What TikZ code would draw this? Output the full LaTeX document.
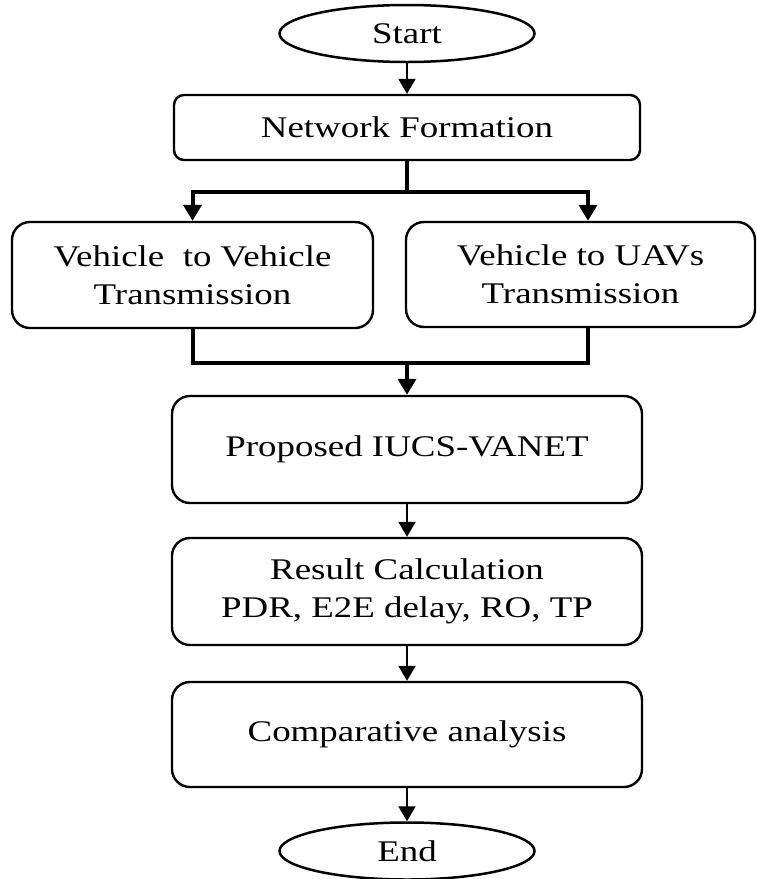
\documentclass[tikz,border=0pt]{standalone}
\usepackage{fontspec}
\setmainfont{Liberation Serif}[FakeStretch=1.23]
\usetikzlibrary{arrows.meta,shapes.geometric,calc}

\tikzset{
  boxtext/.style={font=\fontsize{30}{38}\selectfont, align=center, inner sep=0pt},
  terminal/.style={boxtext, draw, line width=2.5pt, ellipse,
    minimum width=255pt, minimum height=57pt},
  stepbox/.style={boxtext, draw, line width=2.4pt, rounded corners=18pt},
  flowarrow/.style={line width=2pt, -{Triangle[width=17pt,length=15pt]}},
  busline/.style={line width=4pt},
  busarrow/.style={line width=4pt, -{Triangle[width=18pt,length=16pt]}}
}

\begin{document}
\begin{tikzpicture}[x=1pt, y=-1pt]
  \fill[white] (0,0) rectangle (757,879);
  \useasboundingbox (0,0) rectangle (757,879);

  % terminals and process steps (positions in pixels, y downwards)
  \node[terminal] (start) at (407,33.5) {Start};
  \node[stepbox, rounded corners=10pt, minimum width=466pt, minimum height=65pt]
       (net) at (407,127.5) {Network Formation};
  \node[stepbox, minimum width=361pt, minimum height=106pt]
       (v2v) at (192.5,275) {Vehicle \ to Vehicle\\Transmission};
  \node[stepbox, minimum width=349pt, minimum height=105pt]
       (v2u) at (580.5,274.5) {Vehicle to UAVs\\Transmission};
  \node[stepbox, minimum width=470pt, minimum height=107pt]
       (prop) at (407,449.5) {Proposed IUCS-VANET};
  \node[stepbox, minimum width=470pt, minimum height=107pt]
       (res) at (407,591.5) {Result Calculation\\PDR, E2E delay, RO, TP};
  \node[stepbox, minimum width=470pt, minimum height=105pt]
       (comp) at (407,734.5) {Comparative analysis};
  \node[terminal] (end) at (407,851) {End};

  % split and join points of the two transmission branches
  \coordinate (split) at (407,192);
  \coordinate (join) at (407,363);
  \coordinate (v2uin) at ($(v2u.north)+(7.5,0)$);
  \coordinate (v2uout) at ($(v2u.south)+(7.5,0)$);

  % connectors
  \draw[flowarrow] (start.south) -- (net.north);
  \draw[busline] (net.south) -- (split);
  \draw[busarrow] (split) -| (v2v.north);
  \draw[busarrow] (split) -| (v2uin);
  \draw[busline] (v2v.south) |- (join);
  \draw[busline] (v2uout) |- (join);
  \draw[busarrow] (join) -- (prop.north);
  \draw[flowarrow] (prop.south) -- (res.north);
  \draw[flowarrow] (res.south) -- (comp.north);
  \draw[flowarrow] (comp.south) -- (end.north);
\end{tikzpicture}
\end{document}
